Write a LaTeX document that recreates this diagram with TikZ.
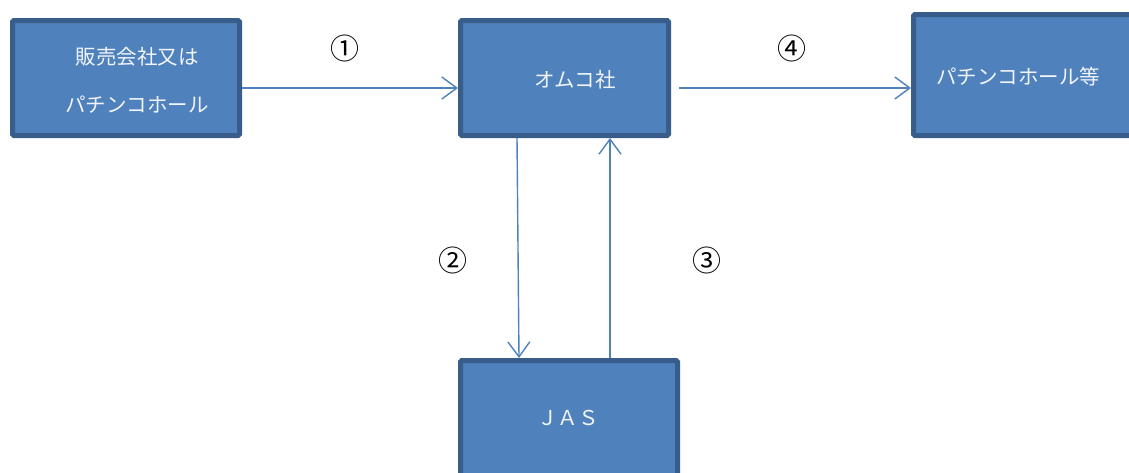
\documentclass[tikz,border=0pt]{standalone}
\usepackage{fontspec}
\setmainfont{Liberation Serif}
\newfontfamily\jpfont{Noto Sans CJK JP}
\usetikzlibrary{arrows.meta}
\definecolor{boxfill}{HTML}{4F81BD}
\definecolor{boxline}{HTML}{385D8A}
\tikzset{
  boxnode/.style={draw=boxline, fill=boxfill, line width=5pt, rounded corners=1.5pt, inner sep=0pt},
  boxtext/.style={text=white!92!boxfill, font=\jpfont\fontsize{20.5}{24}\selectfont, inner sep=0pt, align=center},
  numlabel/.style={text=black, font=\jpfont\fontsize{29}{32}\selectfont, inner sep=0pt},
  conn/.style={draw=boxfill, line width=1.4pt, -{Straight Barb[length=15pt,width=22pt,line width=1.4pt]}}
}
\begin{document}
\begin{tikzpicture}[x=1pt,y=-1pt]
\useasboundingbox (0,0) rectangle (1129,472);
\clip (0,0) rectangle (1129,472);
\node[boxnode, minimum width=227pt, minimum height=115pt] (b1) at (126,78) {};
\node[boxnode, minimum width=208pt, minimum height=115pt] (b2) at (564.5,78) {};
\node[boxnode, minimum width=218pt, minimum height=121pt] (b3) at (1022.5,75) {};
\node[boxnode, minimum width=217pt, minimum height=115pt] (b4) at (569,418) {};
\node[boxtext] (t1a) at (137,57) {販売会社又は};
\node[boxtext] (t1b) at (137,105) {パチンコホール};
\node[boxtext] (t2) at (575,80) {オムコ社};
\node[boxtext] (t3) at (1018,77) {パチンコホール等};
\node[boxtext] (t4) at (568,418) {ＪＡＳ};
\draw[conn] ([yshift=-10pt]b1.east) -- ([yshift=-10pt]b2.west);
\coordinate (s4) at (679,88);
\draw[conn] (s4) -- ([yshift=-13pt]b3.west);
\draw[conn] ([xshift=-47.5pt]b2.south) -- ([xshift=-50pt]b4.north);
\draw[conn] ([xshift=41pt]b4.north) -- ([xshift=45.5pt]b2.south);
\node[numlabel] (n1) at (345,48) {①};
\node[numlabel] (n4) at (792,48) {④};
\node[numlabel] (n2) at (453,260) {②};
\node[numlabel] (n3) at (707,260) {③};
\end{tikzpicture}
\end{document}
